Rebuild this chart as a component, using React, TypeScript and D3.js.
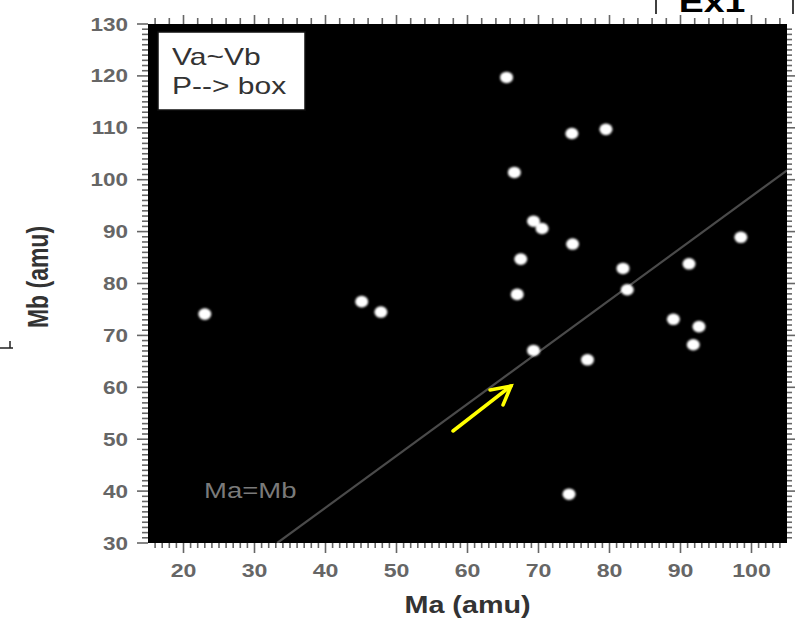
import React, { useEffect, useRef } from "react";
import * as d3 from "d3";

// Ma / Mb pairs (amu)
const ma = [23.0, 45.1, 47.8, 65.5, 66.6, 74.7, 79.5, 69.3, 70.5, 67.5, 74.8, 67.0, 69.3, 76.9, 74.3, 81.9, 82.5, 91.2, 89.0, 92.6, 91.8, 98.5];
const mb = [74.1, 76.5, 74.5, 119.7, 101.4, 108.9, 109.7, 92.0, 90.6, 84.7, 87.6, 77.9, 67.1, 65.3, 39.4, 82.9, 78.8, 83.8, 73.1, 71.7, 68.2, 88.9];
const xTicks = [20, 30, 40, 50, 60, 70, 80, 90, 100];
const yTicks = [30, 40, 50, 60, 70, 80, 90, 100, 110, 120, 130];
const refLine = [
  [33.2, 30],
  [105, 101.8],
];
const legendLines = ["Va~Vb", "P--> box"];

const W = 798;
const H = 628;
const margin = { left: 148, right: 11, top: 24, bottom: 85 };
const SX = 1.25; // the source picture is stretched horizontally

export default function App() {
  const ref = useRef<SVGSVGElement>(null);

  useEffect(() => {
    const svg = d3.select(ref.current);
    svg.selectAll("*").remove();

    const x = d3.scaleLinear().domain([15, 105]).range([margin.left, W - margin.right]);
    const y = d3.scaleLinear().domain([30, 130]).range([H - margin.bottom, margin.top]);
    const [x0, x1] = x.range();
    const [y0, y1] = [y(130), y(30)];

    const defs = svg.append("defs");
    defs.append("filter").attr("id", "soft").append("feGaussianBlur").attr("stdDeviation", 1);
    defs.append("clipPath").attr("id", "plot").append("rect")
      .attr("x", x0).attr("y", y0).attr("width", x1 - x0).attr("height", y1 - y0);

    const tickColor = "#666";
    const ticks = svg.append("g").attr("stroke", tickColor).attr("stroke-width", 1.6);

    // bottom minor / major ticks
    ticks.selectAll(".bx").data(d3.range(16, 105, 1)).enter().append("line")
      .attr("x1", (d) => x(d)).attr("x2", (d) => x(d))
      .attr("y1", y1).attr("y2", (d) => y1 + (d % 10 === 0 ? 10 : 5));
    // top ticks
    ticks.selectAll(".tx").data(d3.range(16, 105, 2)).enter().append("line")
      .attr("x1", (d) => x(d)).attr("x2", (d) => x(d))
      .attr("y1", y0).attr("y2", (d) => y0 - (d % 10 === 0 ? 9 : 6));
    // left ticks
    ticks.selectAll(".ly").data(d3.range(31, 130, 1)).enter().append("line")
      .attr("y1", (d) => y(d)).attr("y2", (d) => y(d))
      .attr("x1", x0).attr("x2", (d) => x0 - (d % 10 === 0 ? 11 : 6));
    ticks.append("line").attr("x1", x0 - 11).attr("x2", x0).attr("y1", y(130)).attr("y2", y(130));
    ticks.append("line").attr("x1", x0 - 11).attr("x2", x0).attr("y1", y(30)).attr("y2", y(30));
    // right ticks
    ticks.selectAll(".ry").data(d3.range(31, 130, 1)).enter().append("line")
      .attr("y1", (d) => y(d)).attr("y2", (d) => y(d))
      .attr("x1", x1).attr("x2", (d) => x1 + (d % 10 === 0 ? 8 : 5));

    // plot background
    svg.append("rect")
      .attr("x", x0).attr("y", y0).attr("width", x1 - x0).attr("height", y1 - y0)
      .attr("fill", "#000");

    // Ma=Mb reference line
    svg.append("path")
      .attr("clip-path", "url(#plot)")
      .attr("d", d3.line<number[]>().x((d) => x(d[0])).y((d) => y(d[1]))(refLine))
      .attr("stroke", "#4a4a4a").attr("stroke-width", 2.2).attr("fill", "none");

    // points
    svg.append("g").attr("filter", "url(#soft)")
      .selectAll("ellipse").data(ma).enter().append("ellipse")
      .attr("cx", (d) => x(d)).attr("cy", (d, i) => y(mb[i]))
      .attr("rx", 6.5).attr("ry", 5.8).attr("fill", "#fff");

    // tick labels
    const font = "Liberation Sans, Arial, sans-serif";
    svg.append("g").attr("font-family", font).attr("font-size", 18.5).attr("font-weight", "bold")
      .attr("fill", "#666").attr("text-anchor", "middle")
      .selectAll("text").data(xTicks).enter().append("text")
      .attr("transform", (d) => `translate(${x(d)},${y1 + 34}) scale(${SX},1)`)
      .text((d) => d);
    svg.append("g").attr("font-family", font).attr("font-size", 18).attr("font-weight", "bold")
      .attr("fill", "#666").attr("text-anchor", "end")
      .selectAll("text").data(yTicks).enter().append("text")
      .attr("transform", (d) => `translate(${x0 - 20},${y(d) + 6.5}) scale(${SX},1)`)
      .text((d) => d);

    // axis titles
    svg.append("text")
      .attr("transform", `translate(${(x0 + x1) / 2 - 0},${613}) scale(${SX},1)`)
      .attr("text-anchor", "middle").attr("font-family", font).attr("font-size", 23)
      .attr("font-weight", "bold").attr("fill", "#333")
      .text("Ma (amu)");
    svg.append("text")
      .attr("transform", `translate(${48},${277}) scale(${SX},1) rotate(-90)`)
      .attr("text-anchor", "middle").attr("font-family", font).attr("font-size", 23)
      .attr("font-weight", "bold").attr("fill", "#333")
      .text("Mb (amu)");

    // legend box
    svg.append("rect")
      .attr("x", 158).attr("y", 32).attr("width", 147).attr("height", 78)
      .attr("fill", "#fff").attr("stroke", "#111").attr("stroke-width", 1.5);
    svg.append("g").attr("font-family", font).attr("font-size", 24).attr("fill", "#333")
      .selectAll("text").data(legendLines).enter().append("text")
      .attr("transform", (d, i) => `translate(172,${65 + i * 29}) scale(${SX},1)`)
      .text((d) => d);

    // in-plot label
    svg.append("text")
      .attr("transform", `translate(204,498) scale(${SX},1)`)
      .attr("font-family", font).attr("font-size", 22).attr("fill", "#7a7a7a")
      .text("Ma=Mb");

    // yellow arrow
    const arrow = svg.append("g").attr("stroke", "#ffff00").attr("stroke-width", 3.5)
      .attr("stroke-linecap", "round").attr("fill", "none");
    arrow.append("line").attr("x1", 453).attr("y1", 431).attr("x2", 511).attr("y2", 386);
    arrow.append("polyline").attr("points", "490,390 511,386 503,405");

    // cropped heading at the top right
    svg.append("text")
      .attr("transform", `translate(712,12) scale(${SX},1)`)
      .attr("text-anchor", "middle").attr("font-family", font).attr("font-size", 30)
      .attr("font-weight", "bold").attr("fill", "#000")
      .text("Ex1");
    const frame = svg.append("g").attr("stroke", "#000").attr("stroke-width", 1.5);
    frame.append("line").attr("x1", 656).attr("x2", 656).attr("y1", 0).attr("y2", 14);
    frame.append("line").attr("x1", 793).attr("x2", 793).attr("y1", 0).attr("y2", 14);

    // stray glyph fragment at the left edge
    const frag = svg.append("g").attr("stroke", "#222").attr("stroke-width", 1.5);
    frag.append("line").attr("x1", 0).attr("x2", 13).attr("y1", 348).attr("y2", 348);
    frag.append("line").attr("x1", 10).attr("x2", 10).attr("y1", 341).attr("y2", 348);
  }, []);

  return (
    <svg
      ref={ref}
      width={W}
      height={H}
      style={{ position: "absolute", left: 0, top: 0, background: "#fff" }}
    ></svg>
  );
}
